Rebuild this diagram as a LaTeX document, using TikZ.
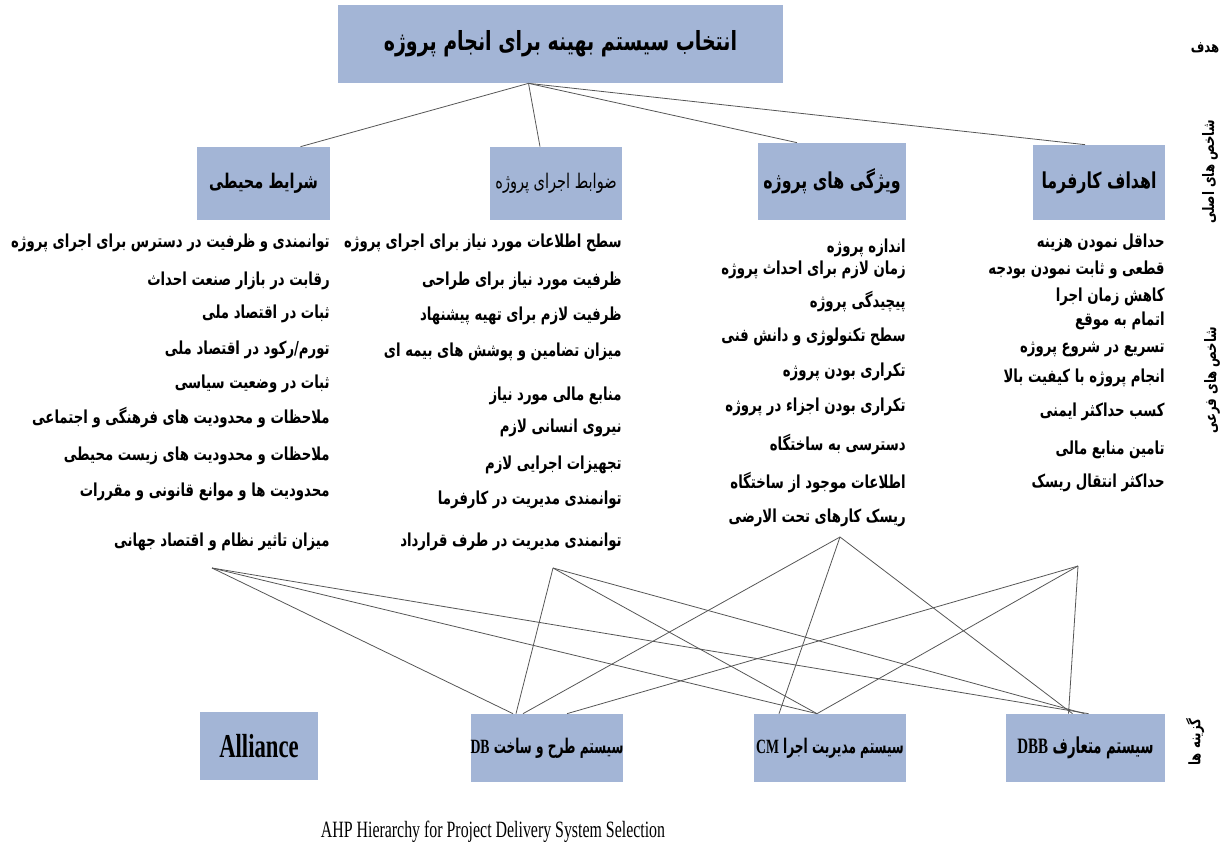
\documentclass[tikz,border=0pt]{standalone}
\usepackage{fontspec}
\usetikzlibrary{calc}
\TeXXeTstate=1
\newfontfamily\fatitle[Script=Arabic,FakeStretch=0.72]{DejaVu Sans}
\newfontfamily\faitem[Script=Arabic,FakeStretch=0.74]{DejaVu Sans}
\newfontfamily\faslim[Script=Arabic,FakeStretch=0.6]{DejaVu Sans}
\newfontfamily\enfont[FakeStretch=0.68]{Liberation Serif}
\newcommand\fatxt[1]{{\beginR #1\endR}}
\definecolor{boxblue}{RGB}{163,181,214}
\definecolor{linkgray}{RGB}{85,85,85}

\tikzset{
  crit/.style={fill=boxblue, inner sep=0pt, align=center},
  item/.style={anchor=east, inner sep=0pt, font=\faitem\bfseries\fontsize{10.2}{11}\selectfont},
  side/.style={inner sep=0pt, font=\faitem\bfseries\fontsize{9}{10}\selectfont},
  link/.style={draw=linkgray, line width=0.45pt},
}

\begin{document}
\begin{tikzpicture}[x=0.02cm, y=-0.02cm]
  \fill[white] (0,0) rectangle (1230,849);
  \useasboundingbox (0,0) rectangle (1230,849);

  % goal
  \node (goal) [crit, minimum width=8.9cm, minimum height=1.56cm,
    font=\fatitle\bfseries\fontsize{15}{17}\selectfont] at (560.5,44)
    {\fatxt{انتخاب سیستم بهینه برای انجام پروژه}};

  % main criteria
  \node (env) [crit, minimum width=2.66cm, minimum height=1.46cm,
    font=\fatitle\bfseries\fontsize{11.5}{13}\selectfont] at (263.5,183.5)
    {\fatxt{شرایط محیطی}};
  \node (exe) [crit, minimum width=2.64cm, minimum height=1.46cm,
    font=\fatitle\fontsize{11.5}{13}\selectfont] at (556,183.5)
    {\fatxt{ضوابط اجرای پروژه}};
  \node (feat) [crit, minimum width=2.96cm, minimum height=1.54cm,
    font=\fatitle\bfseries\fontsize{12.5}{14}\selectfont] at (832,181.5)
    {\fatxt{ویژگی های پروژه}};
  \node (emp) [crit, minimum width=2.64cm, minimum height=1.5cm,
    font=\fatitle\bfseries\fontsize{12.5}{14}\selectfont] at (1099,182.5)
    {\fatxt{اهداف کارفرما}};

  % sub criteria
  \foreach \y/\t [count=\i] in {
      243/{توانمندی و ظرفیت در دسترس برای اجرای پروژه},
      281/{رقابت در بازار صنعت احداث},
      314/{ثبات در اقتصاد ملی},
      350/{تورم/رکود در اقتصاد ملی},
      384/{ثبات در وضعیت سیاسی},
      418/{ملاحظات و محدودیت های فرهنگی و اجتماعی},
      456/{ملاحظات و محدودیت های زیست محیطی},
      492/{محدودیت ها و موانع قانونی و مقررات},
      542/{میزان تاثیر نظام و اقتصاد جهانی}}
    \node (env\i) [item] at (330,\y) {\fatxt{\t}};

  \foreach \y/\t [count=\i] in {
      243/{سطح اطلاعات مورد نیاز برای اجرای پروژه},
      281/{ظرفیت مورد نیاز برای طراحی},
      316/{ظرفیت لازم برای تهیه پیشنهاد},
      352/{میزان تضامین و پوشش های بیمه ای},
      396/{منابع مالی مورد نیاز},
      428/{نیروی انسانی لازم},
      465/{تجهیزات اجرایی لازم},
      500/{توانمندی مدیریت در کارفرما},
      542/{توانمندی مدیریت در طرف قرارداد}}
    \node (exe\i) [item] at (622,\y) {\fatxt{\t}};

  \foreach \y/\t [count=\i] in {
      248/{اندازه پروژه},
      270/{زمان لازم برای احداث پروژه},
      302/{پیچیدگی پروژه},
      337/{سطح تکنولوژی و دانش فنی},
      372/{تکراری بودن پروژه},
      407/{تکراری بودن اجزاء در پروژه},
      445/{دسترسی به ساختگاه},
      483/{اطلاعات موجود از ساختگاه},
      518/{ریسک کارهای تحت الارضی}}
    \node (feat\i) [item] at (906,\y) {\fatxt{\t}};

  \foreach \y/\t [count=\i] in {
      243/{حداقل نمودن هزینه},
      270/{قطعی و ثابت نمودن بودجه},
      297/{کاهش زمان اجرا},
      321/{اتمام به موقع},
      349/{تسریع در شروع پروژه},
      378/{انجام پروژه با کیفیت بالا},
      412/{کسب حداکثر ایمنی},
      450/{تامین منابع مالی},
      483/{حداکثر انتقال ریسک}}
    \node (emp\i) [item] at (1165,\y) {\fatxt{\t}};

  % alternatives
  \node (all) [crit, minimum width=2.36cm, minimum height=1.36cm,
    font=\enfont\bfseries\fontsize{19}{21}\selectfont] at (259,746) {Alliance};
  \node (db) [crit, minimum width=3cm, minimum height=1.36cm,
    font=\faslim\bfseries\fontsize{11.5}{13}\selectfont] at (547,748)
    {\fatxt{سیستم طرح و ساخت \beginL{\enfont\bfseries DB}\endL}};
  \node (cm) [crit, minimum width=3.04cm, minimum height=1.36cm,
    font=\faslim\bfseries\fontsize{11.5}{13}\selectfont] at (830,748)
    {\fatxt{سیستم مدیریت اجرا \beginL{\enfont\bfseries CM}\endL}};
  \node (dbb) [crit, minimum width=3.18cm, minimum height=1.36cm,
    font=\faslim\bfseries\fontsize{12.5}{14}\selectfont] at (1085.5,748)
    {\fatxt{سیستم متعارف \beginL{\enfont\bfseries DBB}\endL}};

  % level labels
  \node (lgoal) [side] at (1205,48) {\fatxt{هدف}};
  \node (lmain) [side, rotate=90] at (1210,172) {\fatxt{شاخص های اصلی}};
  \node (lsub) [side, rotate=90] at (1212,380) {\fatxt{شاخص های فرعی}};
  \node (lalt) [side, rotate=90] at (1195,742) {\fatxt{گزینه ها}};

  \node (cap) at (493,832) {\enfont\fontsize{13.3}{15}\selectfont AHP Hierarchy for Project Delivery System Selection};

  % goal to main criteria
  \coordinate (hub) at ($(goal.south)+(-32,0)$);
  \draw [link] (hub) -- ($(env.north)+(37,0)$);
  \draw [link] (hub) -- ($(exe.north)+(-16,0)$);
  \draw [link] (hub) -- ($(feat.north)+(-35,0)$);
  \draw [link] (hub) -- ($(emp.north)+(-14,0)$);

  % sub criteria to alternatives
  \coordinate (s1) at (212,568);
  \coordinate (s2) at (553,568);
  \coordinate (s3) at (840,537);
  \coordinate (s4) at (1078,566);
  \draw [link] (s1) -- ($(db.north)+(-34,0)$);
  \draw [link] (s1) -- ($(cm.north)+(-13,0)$);
  \draw [link] (s1) -- ($(dbb.north)+(3,0)$);
  \draw [link] (s2) -- ($(db.north)+(-31,0)$);
  \draw [link] (s2) -- ($(cm.north)+(-13,0)$);
  \draw [link] (s2) -- ($(dbb.north)+(-1,0)$);
  \draw [link] (s3) -- ($(db.north)+(-24,0)$);
  \draw [link] (s3) -- ($(cm.north)+(-51,0)$);
  \draw [link] (s3) -- ($(dbb.north)+(-13,0)$);
  \draw [link] (s4) -- ($(db.north)+(20,0)$);
  \draw [link] (s4) -- ($(cm.north)+(-13,0)$);
  \draw [link] (s4) -- ($(dbb.north)+(-17,0)$);
\end{tikzpicture}
\end{document}
